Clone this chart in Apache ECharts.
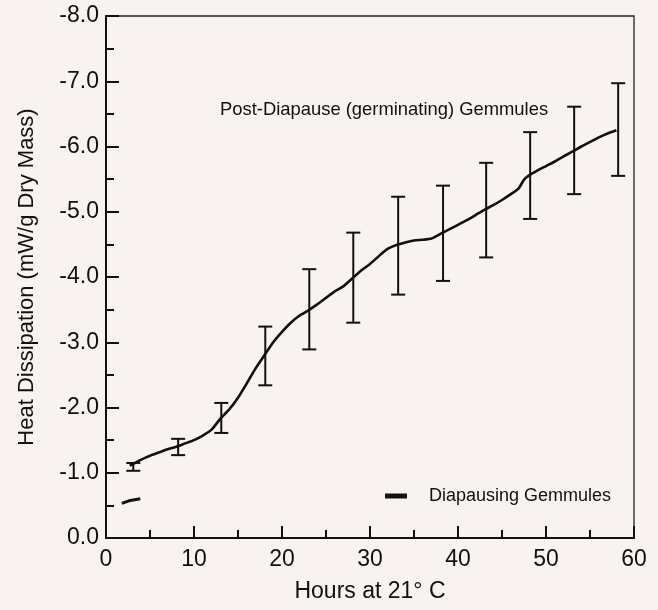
<!DOCTYPE html>
<html>
<head>
<meta charset="utf-8">
<script src="https://cdn.jsdelivr.net/npm/echarts@6/dist/echarts.min.js"></script>
<style>
  html, body { margin: 0; padding: 0; background: #f8f2f0; }
  #chart { width: 658px; height: 610px; }
</style>
</head>
<body>
<div id="chart"></div>
<script>
// post-diapause (germinating) gemmules, continuous trace
const hours = [2.7, 3, 4, 5, 6, 7, 8, 9, 10, 11, 12, 13, 14, 15, 16, 17, 18, 19, 20, 21, 22, 23, 24, 25, 26, 27, 28, 29, 30, 31, 32, 33, 34, 35, 36, 37, 38, 39, 40, 41, 42, 43, 44, 45, 46, 46.9, 47.5, 48, 49, 50, 51, 52, 53, 54, 55, 56, 57, 58]
const heat = [-1.11, -1.13, -1.2, -1.26, -1.31, -1.36, -1.4, -1.45, -1.5, -1.57, -1.66, -1.83, -1.97, -2.15, -2.37, -2.6, -2.8, -3.0, -3.16, -3.3, -3.41, -3.49, -3.58, -3.68, -3.78, -3.86, -3.98, -4.1, -4.2, -4.32, -4.43, -4.49, -4.53, -4.56, -4.57, -4.59, -4.66, -4.73, -4.8, -4.87, -4.95, -5.03, -5.1, -5.18, -5.27, -5.36, -5.49, -5.55, -5.63, -5.7, -5.77, -5.85, -5.92, -6.0, -6.07, -6.14, -6.2, -6.25]

// error bars
const errHours = [3.1, 8.2, 13.1, 18.1, 23.1, 28.1, 33.2, 38.3, 43.2, 48.2, 53.2, 58.2]
const errLow = [-1.03, -1.27, -1.61, -2.34, -2.89, -3.3, -3.73, -3.94, -4.3, -4.89, -5.27, -5.55]
const errHigh = [-1.15, -1.52, -2.07, -3.24, -4.12, -4.68, -5.23, -5.4, -5.75, -6.22, -6.61, -6.97]

// diapausing gemmules
const diaHours = [1.8, 2.6, 3.9]
const diaHeat = [-0.53, -0.57, -0.6]

const xTicks = [0, 10, 20, 30, 40, 50, 60]
const yTicks = [-8, -7, -6, -5, -4, -3, -2, -1, 0]

const chart = echarts.init(document.getElementById('chart'))
const font = 'Liberation Sans, Arial, sans-serif'

const option = {
  backgroundColor: '#f8f2f0',
  animation: false,
  grid: {
    left: 106, right: 24, top: 16, bottom: 72,
    show: true,
    borderColor: '#222',
    borderWidth: 1.3
  },
  legend: {
    data: ['Diapausing Gemmules'],
    left: 380,
    top: 482,
    icon: 'rect',
    itemWidth: 22,
    itemHeight: 5,
    textStyle: { fontFamily: font, fontSize: 18, color: '#111', padding: [0, 0, 0, 17] }
  },
  xAxis: {
    type: 'value',
    min: xTicks[0],
    max: xTicks[xTicks.length - 1],
    interval: 10,
    name: 'Hours at 21° C',
    nameLocation: 'middle',
    nameGap: 42,
    nameTextStyle: { fontFamily: font, fontSize: 23, color: '#111' },
    axisLine: { lineStyle: { color: '#111', width: 2 } },
    axisTick: { inside: true, length: 12, lineStyle: { color: '#111', width: 2 } },
    minorTick: { show: true, splitNumber: 2, length: 8, lineStyle: { color: '#111', width: 2 } },
    axisLabel: { fontFamily: font, fontSize: 23, color: '#111', margin: 10 },
    splitLine: { show: false }
  },
  yAxis: {
    type: 'value',
    min: yTicks[0],
    max: yTicks[yTicks.length - 1],
    interval: 1,
    inverse: true,
    name: 'Heat Dissipation (mW/g Dry Mass)',
    nameLocation: 'middle',
    nameGap: 68,
    nameTextStyle: { fontFamily: font, fontSize: 22, color: '#111' },
    axisLine: { lineStyle: { color: '#111', width: 2 } },
    axisTick: { inside: true, length: 13, lineStyle: { color: '#111', width: 2 } },
    minorTick: { show: true, splitNumber: 2, length: 8, lineStyle: { color: '#111', width: 2 } },
    axisLabel: {
      fontFamily: font, fontSize: 23, color: '#111', margin: 7,
      formatter: v => v.toFixed(1)
    },
    splitLine: { show: false }
  },
  graphic: [{
    type: 'text',
    left: 220,
    top: 101,
    style: {
      text: 'Post-Diapause (germinating) Gemmules',
      fontFamily: font,
      fontSize: 18.4,
      fill: '#111'
    }
  }],
  series: [
    {
      name: 'Post-Diapause',
      type: 'line',
      data: hours.map((h, i) => [h, heat[i]]),
      showSymbol: false,
      smooth: 0.2,
      lineStyle: { color: '#111', width: 2.6 },
      z: 3
    },
    {
      name: 'Error',
      type: 'custom',
      data: errHours.map((h, i) => [h, errLow[i], errHigh[i]]),
      renderItem: (params, api) => {
        const lo = api.coord([api.value(0), api.value(1)])
        const hi = api.coord([api.value(0), api.value(2)])
        const half = 7
        const style = { stroke: '#111', lineWidth: 2 }
        return {
          type: 'group',
          children: [
            { type: 'line', shape: { x1: lo[0], y1: lo[1], x2: hi[0], y2: hi[1] }, style },
            { type: 'line', shape: { x1: lo[0] - half, y1: lo[1], x2: lo[0] + half, y2: lo[1] }, style },
            { type: 'line', shape: { x1: hi[0] - half, y1: hi[1], x2: hi[0] + half, y2: hi[1] }, style }
          ]
        }
      },
      z: 4
    },
    {
      name: 'Diapausing Gemmules',
      type: 'line',
      data: diaHours.map((h, i) => [h, diaHeat[i]]),
      showSymbol: false,
      itemStyle: { color: '#111' },
      lineStyle: { color: '#111', width: 3 }
    }
  ]
}

chart.setOption(option)
</script>
</body>
</html>
